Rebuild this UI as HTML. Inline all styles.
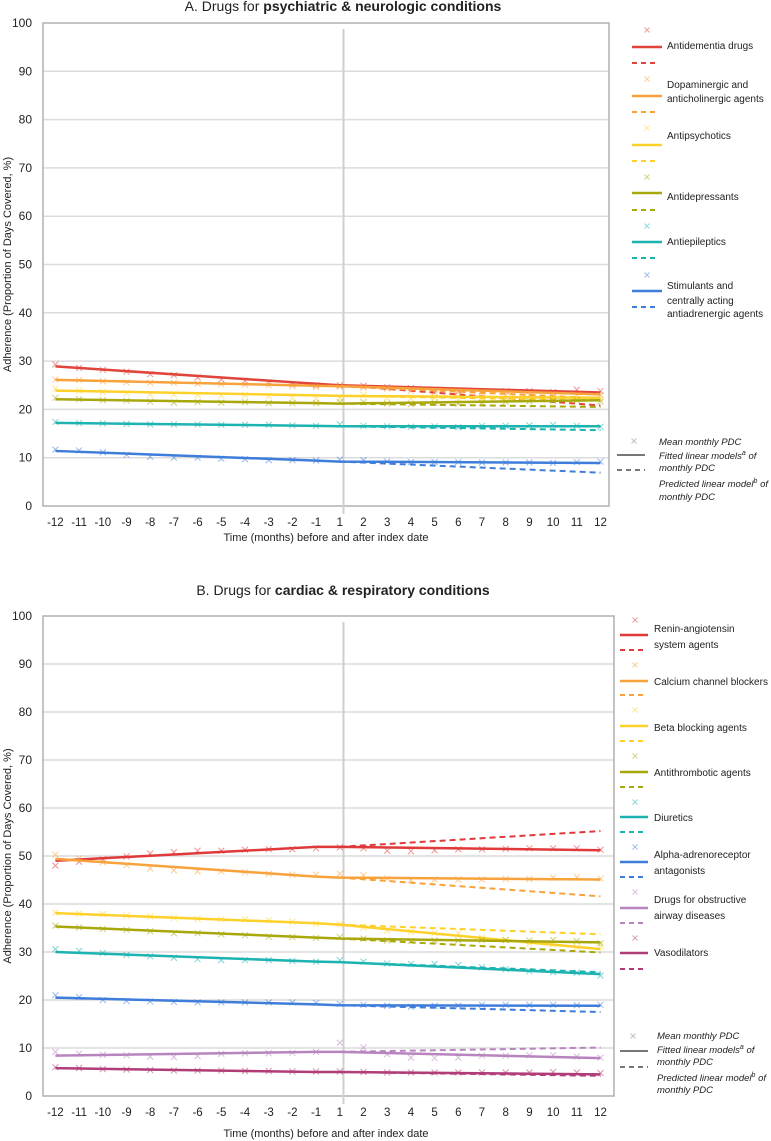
<!DOCTYPE html>
<html><head><meta charset="utf-8">
<style>
html,body{margin:0;padding:0;background:#fff;}
svg{display:block;font-family:"Liberation Sans",sans-serif;}
.t{font-family:"Liberation Sans",sans-serif;fill:#222;}
</style></head>
<body>
<svg id="chart" width="771" height="1141" viewBox="0 0 771 1141" xmlns="http://www.w3.org/2000/svg"></svg>
<script>
const months = [-12,-11,-10,-9,-8,-7,-6,-5,-4,-3,-2,-1,1,2,3,4,5,6,7,8,9,10,11,12];
const yTicks = [0,10,20,30,40,50,60,70,80,90,100];

// Panel A series
const aNames = ["Antidementia drugs","Dopaminergic and anticholinergic agents","Antipsychotics","Antidepressants","Antiepileptics","Stimulants and centrally acting antiadrenergic agents"];
const aColors = ["#e0443a","#f7a23b","#fdd12a","#a8a80c","#1db3b0","#3f7ddb"];
const aMeans = [
 [29.3,28.6,28.2,27.8,27.3,27.1,26.6,26.2,25.9,25.6,25.2,25.0,25.0,24.9,24.6,24.4,24.1,23.8,23.7,23.8,23.8,23.6,24.1,23.8],
 [26.2,26.1,25.8,25.6,25.5,25.5,25.3,25.2,25.1,25.0,24.8,24.6,24.7,24.5,24.3,23.8,23.5,23.5,23.2,23.0,23.0,23.1,23.0,22.9],
 [24.3,23.9,23.6,23.4,23.1,23.1,23.0,22.9,23.0,22.8,22.4,22.2,22.3,23.0,22.4,22.2,22.5,22.0,22.2,22.1,22.2,22.0,22.2,22.1],
 [22.4,22.1,21.9,21.8,21.6,21.4,21.5,21.4,21.5,21.3,21.3,21.3,21.5,21.5,21.2,21.1,21.4,21.2,21.4,21.6,21.7,21.8,21.9,21.6],
 [17.4,17.2,17.1,17.0,16.9,16.9,16.9,16.8,16.8,16.8,16.7,16.6,16.9,16.6,16.5,16.4,16.5,16.3,16.6,16.6,16.7,16.8,16.6,16.4],
 [11.7,11.5,11.1,10.6,10.2,10.0,10.0,9.8,9.7,9.5,9.5,9.4,9.6,9.5,9.2,9.1,9.1,9.1,9.0,9.0,9.0,8.9,9.1,9.2]
];
// fitted: [pre start, pre end (-1), post start (1), post end (12)]
const aFitted = [[28.9,25.3,25.0,23.5],[26.1,24.9,24.8,23.1],[23.9,22.9,22.8,22.4],[22.1,21.3,21.2,21.9],[17.2,16.6,16.5,16.5],[11.4,9.4,9.2,8.9]];
// predicted: [start (1), end (12)]
const aPred = [[25.0,20.8],[24.8,22.3],[22.8,21.9],[21.2,20.5],[16.5,15.7],[9.2,6.9]];

// Panel B series
const bNames = ["Renin-angiotensin system agents","Calcium channel blockers","Beta blocking agents","Antithrombotic agents","Diuretics","Alpha-adrenoreceptor antagonists","Drugs for obstructive airway diseases","Vasodilators"];
const bColors = ["#e0393a","#f7a23b","#fdd12a","#a8a80c","#1db3b0","#3f7ddb","#b784bd","#b03c78"];
const bMeans = [
 [48.0,48.8,49.3,49.9,50.5,50.8,51.1,51.1,51.3,51.4,51.4,51.6,51.8,51.6,51.1,51.0,51.2,51.4,51.4,51.5,51.6,51.6,51.6,51.3],
 [50.3,49.5,48.7,48.1,47.4,47.0,46.8,46.8,46.6,46.3,46.1,46.1,46.3,46.0,45.3,45.0,45.1,45.1,45.1,45.2,45.2,45.5,45.6,45.3],
 [38.2,38.0,37.9,37.6,37.4,37.1,36.9,36.8,36.8,36.6,36.3,35.9,35.8,35.1,34.5,34.2,34.0,33.9,33.0,32.5,31.8,31.6,31.0,31.2],
 [35.5,35.1,34.8,34.6,34.3,33.9,33.9,33.7,33.5,33.2,33.1,32.9,33.1,32.8,32.4,32.3,32.4,32.4,32.5,32.5,32.4,32.5,32.3,31.8],
 [30.6,30.2,29.8,29.4,29.1,28.8,28.5,28.3,28.3,28.3,28.1,28.0,28.3,28.0,27.6,27.5,27.5,27.3,26.8,26.4,26.0,25.8,25.7,25.1],
 [21.0,20.6,20.0,19.8,19.7,19.6,19.5,19.5,19.5,19.5,19.5,19.4,19.2,19.0,18.8,18.6,18.8,18.8,19.0,19.0,19.0,19.0,18.9,19.0],
 [9.2,8.8,8.6,8.5,8.2,8.1,8.3,8.8,8.9,8.9,9.0,9.2,11.1,10.1,8.7,8.0,7.9,8.0,8.4,8.4,8.5,8.5,8.2,8.0],
 [6.0,5.8,5.6,5.5,5.4,5.3,5.3,5.3,5.2,5.2,5.1,5.1,5.1,5.0,4.9,4.9,4.9,4.9,4.9,4.9,4.9,5.0,4.9,4.8]
];
const bFitted = [[49.0,51.9,51.9,51.2],[49.4,45.7,45.5,45.1],[38.1,36.0,35.7,30.6],[35.3,33.0,32.8,32.0],[30.0,28.0,27.9,25.4],[20.5,19.1,18.9,18.8],[8.4,9.2,9.2,7.9],[5.8,5.0,5.0,4.5]];
const bPred = [[51.9,55.2],[45.5,41.6],[35.7,33.7],[32.8,29.9],[27.9,25.8],[18.9,17.5],[9.2,10.1],[5.0,4.2]];

const NS = "http://www.w3.org/2000/svg";
const svg = document.getElementById("chart");
function mk(tag, attrs, parent, text){
  const e = document.createElementNS(NS, tag);
  for (const k in attrs) e.setAttribute(k, attrs[k]);
  if (text !== undefined) e.textContent = text;
  (parent||svg).appendChild(e);
  return e;
}

function panel(cfg){
  const g = mk("g", {});
  
  
  const L=43, R=cfg.right, T=cfg.top, B=cfg.bottom;
  const xS = i => 55.4 + i*23.7;
  const yS = v => B - (v/100)*(B-T);
  const tt = mk("text", {x:343, y:cfg.titleY, "text-anchor":"middle", "font-size":"14", class:"t"}, g);
  
  
  mk("tspan", {}, tt, cfg.titlePre);
  mk("tspan", {"font-weight":"bold"}, tt, cfg.titleBold);
  yTicks.forEach(v=>{
    if (v>0 && v<100){
      const gl = mk("line", {x1:L, x2:R, y1:yS(v), y2:yS(v), stroke:"#dcdcdc", "stroke-width":"1.5"}, g);
      
      
    }
    const tl = mk("text", {x:32, y:yS(v)+4, "text-anchor":"end", "font-size":"12", class:"t"}, g, String(v));
    
    
  });
  const fr = mk("rect", {x:L, y:T, width:R-L, height:B-T, fill:"none", stroke:"#b0b0b0", "stroke-width":"1.5"}, g);
  
  
  const il = mk("line", {x1:343.5, x2:343.5, y1:T+6, y2:B+8, stroke:"#cfcfcf", "stroke-width":"2"}, g);
  
  
  months.forEach((m,i)=>{
    const xl = mk("text", {x:xS(i), y:cfg.tickY, "text-anchor":"middle", "font-size":"11.5", class:"t"}, g, String(m));
    
    
  });
  const xt = mk("text", {x:326, y:cfg.xTitleY, "text-anchor":"middle", "font-size":"11", class:"t"}, g, "Time (months) before and after index date");
  
  
  const yc = (T+B)/2;
  const yt = mk("text", {x:0, y:0, transform:`translate(11,${yc}) rotate(-90)`, "text-anchor":"middle", "font-size":"11", class:"t"}, g, "Adherence (Proportion of Days Covered, %)");
  
  

  cfg.means.forEach((s,k)=>{
    const col = cfg.colors[k];
    const sg = mk("g", {}, g);
    
    
    s.forEach((v,i)=>{
      const x=xS(i), y=yS(v), d=3;
      const mkr = mk("path", {d:`M${x-d},${y-d}L${x+d},${y+d}M${x-d},${y+d}L${x+d},${y-d}`, stroke:col, "stroke-width":"1", opacity:"0.55", fill:"none"}, sg);
      
      
    });
    const p = cfg.pred[k];
    const pl = mk("line", {x1:xS(12), y1:yS(p[0]), x2:xS(23), y2:yS(p[1]), stroke:col, "stroke-width":"2", "stroke-dasharray":"6,4"}, sg);
    
    
    const f = cfg.fitted[k];
    const fl = mk("polyline", {points:`${xS(0)},${yS(f[0])} ${xS(11)},${yS(f[1])} ${xS(12)},${yS(f[2])} ${xS(23)},${yS(f[3])}`, stroke:col, "stroke-width":"2.5", fill:"none", "stroke-linejoin":"round"}, sg);
    
    
  });

  const lg = mk("g", {}, g);
  
  
  cfg.legend.forEach((e,k)=>{
    const col = cfg.colors[k];
    const eg = mk("g", {}, lg);
    
    
    const mx = cfg.legX+15, my=e.mk, d=2.5;
    mk("path", {d:`M${mx-d},${my-d}L${mx+d},${my+d}M${mx-d},${my+d}L${mx+d},${my-d}`, stroke:col, opacity:"0.5", "stroke-width":"1", fill:"none"}, eg);
    mk("line", {x1:cfg.legX, x2:cfg.legX+cfg.legW, y1:e.solid, y2:e.solid, stroke:col, "stroke-width":"2.5"}, eg);
    mk("line", {x1:cfg.legX, x2:cfg.legX+26, y1:e.dash, y2:e.dash, stroke:col, "stroke-width":"2", "stroke-dasharray":"5,4"}, eg);
    e.lines.forEach((ln,j)=>{
      mk("text", {x:cfg.legTX, y:e.ty[j]+4, "font-size":"10", class:"t"}, eg, ln);
    });
  });
  const kg = mk("g", {}, g);
  
  
  const K = cfg.key;
  const d=2.5;
  mk("path", {d:`M${K.mx-d},${K.my-d}L${K.mx+d},${K.my+d}M${K.mx-d},${K.my+d}L${K.mx+d},${K.my-d}`, stroke:"#999", opacity:"0.6", "stroke-width":"1", fill:"none"}, kg);
  mk("line", {x1:K.lx, x2:K.lx+28, y1:K.solid, y2:K.solid, stroke:"#777", "stroke-width":"2"}, kg);
  mk("line", {x1:K.lx, x2:K.lx+28, y1:K.dash, y2:K.dash, stroke:"#777", "stroke-width":"2", "stroke-dasharray":"5,4"}, kg);
  mk("text", {x:K.tx, y:K.ty[0]+4, "font-size":"9.5", "font-style":"italic", class:"t"}, kg, "Mean monthly PDC");
  const t2 = mk("text", {x:K.tx, y:K.ty[1]+4, "font-size":"9.5", "font-style":"italic", class:"t"}, kg, "Fitted linear models");
  mk("tspan", {"font-size":"7", dy:"-4"}, t2, "a");
  mk("tspan", {dy:"4"}, t2, " of");
  mk("text", {x:K.tx, y:K.ty[2]+4, "font-size":"9.5", "font-style":"italic", class:"t"}, kg, "monthly PDC");
  const t4 = mk("text", {x:K.tx, y:K.ty[3]+4, "font-size":"9.5", "font-style":"italic", class:"t"}, kg, "Predicted linear model");
  mk("tspan", {"font-size":"7", dy:"-4"}, t4, "b");
  mk("tspan", {dy:"4"}, t4, " of");
  mk("text", {x:K.tx, y:K.ty[4]+4, "font-size":"9.5", "font-style":"italic", class:"t"}, kg, "monthly PDC");
}

panel({
  id:"panel-a-psychiatric-neurologic", right:609, top:23, bottom:506, titleY:11,
  titlePre:"A. Drugs for ", titleBold:"psychiatric & neurologic conditions",
  tickY:526, xTitleY:541,
  names:aNames, colors:aColors, means:aMeans, fitted:aFitted, pred:aPred,
  legX:632, legW:30, legTX:667,
  legend:[
    {mk:30, solid:47, dash:63, lines:["Antidementia drugs"], ty:[45]},
    {mk:79, solid:96, dash:112, lines:["Dopaminergic and","anticholinergic agents"], ty:[84,98]},
    {mk:128, solid:145, dash:161, lines:["Antipsychotics"], ty:[135]},
    {mk:177, solid:193, dash:210, lines:["Antidepressants"], ty:[196]},
    {mk:226, solid:242, dash:258, lines:["Antiepileptics"], ty:[241]},
    {mk:275, solid:291, dash:307, lines:["Stimulants and","centrally acting","antiadrenergic agents"], ty:[285,300,313]}
  ],
  key:{mx:634, my:441, lx:617, solid:455, dash:470, tx:659, ty:[441,455,467,483,496]}
});

panel({
  id:"panel-b-cardiac-respiratory", right:614, top:616, bottom:1096, titleY:595,
  titlePre:"B. Drugs for ", titleBold:"cardiac & respiratory conditions",
  tickY:1116, xTitleY:1137,
  names:bNames, colors:bColors, means:bMeans, fitted:bFitted, pred:bPred,
  legX:620, legW:28, legTX:654,
  legend:[
    {mk:620, solid:635, dash:650, lines:["Renin-angiotensin","system agents"], ty:[628,644]},
    {mk:665, solid:681, dash:695, lines:["Calcium channel blockers"], ty:[681]},
    {mk:710, solid:726, dash:741, lines:["Beta blocking agents"], ty:[727]},
    {mk:756, solid:772, dash:787, lines:["Antithrombotic agents"], ty:[772]},
    {mk:802, solid:817, dash:832, lines:["Diuretics"], ty:[817]},
    {mk:847, solid:862, dash:877, lines:["Alpha-adrenoreceptor","antagonists"], ty:[854,870]},
    {mk:892, solid:908, dash:923, lines:["Drugs for obstructive","airway diseases"], ty:[899,915]},
    {mk:938, solid:953, dash:969, lines:["Vasodilators"], ty:[952]}
  ],
  key:{mx:633, my:1036, lx:620, solid:1051, dash:1067, tx:657, ty:[1035,1049,1061,1077,1089]}
});
</script>
</body></html>
